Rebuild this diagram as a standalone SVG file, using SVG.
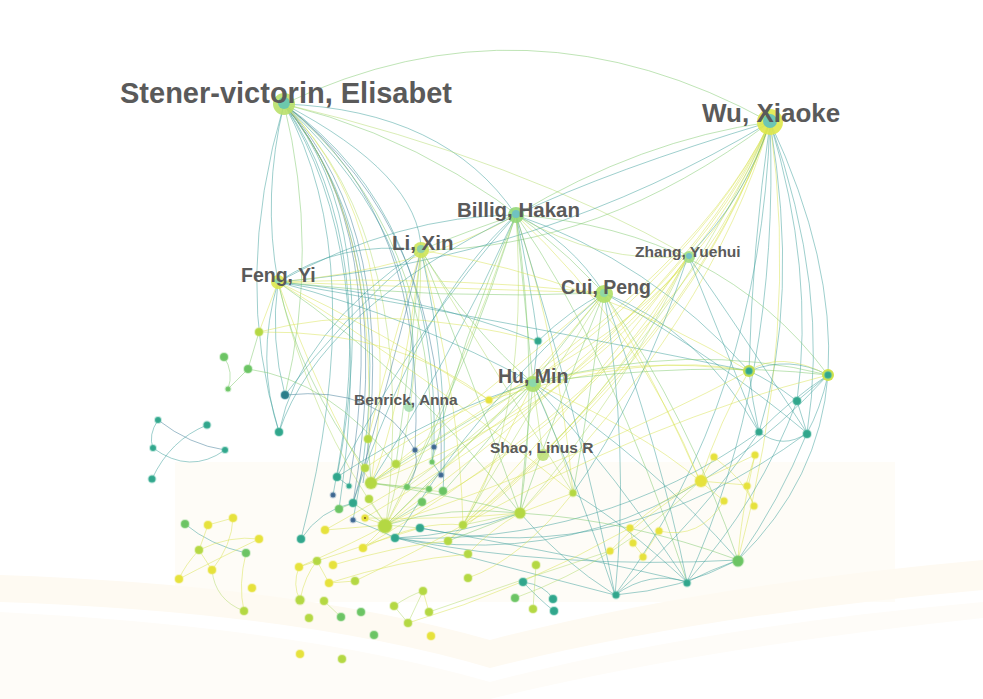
<svg xmlns="http://www.w3.org/2000/svg" width="983" height="699" viewBox="0 0 983 699">
<style>
.e path{fill:none;stroke-width:.85;opacity:.58}
.e .t{stroke:#3a9e9a}.e .d{stroke:#3b7895}.e .g{stroke:#7cc86a}.e .y{stroke:#d9e350}.e .l{stroke:#b2da6a}
circle{stroke-width:2;stroke-opacity:.35}
.y{fill:#e6e23c;stroke:#eee86a}.yg{fill:#b4d843;stroke:#c8e270}.g{fill:#6cc464;stroke:#8fd88a}.t{fill:#31a68c;stroke:#5cc0a8}.dt{fill:#2a7d8a;stroke:#4f9aa8}.b{fill:#3d6690;stroke:#6a8fb0}
.lb{font-family:"Liberation Sans",Arial,sans-serif;font-weight:bold;fill:#5a5a5a}
.hub-o{stroke:none;opacity:.9}.hub-i{stroke:none}
</style>
<rect width="983" height="699" fill="#ffffff"/>
<g id="background">
<rect x="175" y="462" width="720" height="140" fill="#fefcf7"/>
<path d="M0,575 Q300,585 490,640 Q700,585 983,560 L983,590 Q700,615 490,668 Q300,612 0,602Z" fill="#fefaf2"/>
<path d="M0,612 Q300,627 490,682 Q700,627 983,602 L983,618 Q700,648 490,699 L0,699Z" fill="#fefcf8"/>
</g>
<g id="connectors" class="e">
<path class="t" d="M284,104Q385,225 337,477"/>
<path class="d" d="M284,104Q392,230 349,486"/>
<path class="t" d="M284,104Q383,245 333,495"/>
<path class="d" d="M284,104Q398,240 353,503"/>
<path class="t" d="M284,104Q408,255 353,520"/>
<path class="d" d="M284,104Q402,232 363,483"/>
<path class="d" d="M284,104Q428,215 415,450"/>
<path class="t" d="M284,104Q440,215 434,447"/>
<path class="d" d="M284,104Q448,230 441,475"/>
<path class="g" d="M284,104Q436,228 432,462"/>
<path class="y" d="M284,104Q378,215 368,439"/>
<path class="t" d="M284,104Q378,250 339,509"/>
<path class="t" d="M284,104Q372,262 301,539"/>
<path class="t" d="M284,104Q232,280 279,432"/>
<path class="t" d="M284,104Q262,195 278,282"/>
<path class="g" d="M284,104Q320,250 285,395"/>
<path class="l" d="M284,104Q420,240 386,525"/>
<path class="y" d="M284,104Q410,230 371,483"/>
<path class="t" d="M284,104Q440,250 408,407"/>
<path class="g" d="M284,104Q527,-12 770,122"/>
<path class="t" d="M284,104Q445,110 516,215"/>
<path class="g" d="M284,104Q470,150 604,293"/>
<path class="l" d="M284,104Q520,160 688,256"/>
<path class="t" d="M284,104Q420,175 421,250"/>
<path class="y" d="M770,122Q690,300 386,525"/>
<path class="y" d="M770,122Q680,310 371,483"/>
<path class="y" d="M770,122Q695,320 365,518"/>
<path class="y" d="M770,122Q690,290 396,464"/>
<path class="y" d="M770,122Q705,320 463,525"/>
<path class="y" d="M770,122Q700,335 448,541"/>
<path class="l" d="M770,122Q700,290 543,455"/>
<path class="y" d="M770,122Q712,320 520,513"/>
<path class="y" d="M770,122Q680,335 325,530"/>
<path class="y" d="M770,122Q700,345 363,548"/>
<path class="y" d="M770,122Q710,300 489,400"/>
<path class="t" d="M770,122Q745,200 688,256"/>
<path class="t" d="M770,122Q752,250 749,371"/>
<path class="t" d="M770,122Q835,260 828,375"/>
<path class="t" d="M770,122Q830,290 807,433"/>
<path class="t" d="M770,122Q815,270 797,401"/>
<path class="t" d="M770,122Q800,300 759,432"/>
<path class="y" d="M770,122Q800,330 738,560"/>
<path class="t" d="M770,122Q780,380 687,582"/>
<path class="t" d="M770,122Q760,400 615,595"/>
<path class="g" d="M770,122Q640,140 516,215"/>
<path class="t" d="M770,122Q610,170 516,215"/>
<path class="g" d="M770,122Q600,250 421,250"/>
<path class="t" d="M770,122Q540,260 278,282"/>
<path class="g" d="M516,215L533,383"/>
<path class="t" d="M516,215Q530,280 538,341"/>
<path class="g" d="M516,215Q540,380 520,513"/>
<path class="y" d="M516,215Q560,350 573,493"/>
<path class="l" d="M516,215Q460,380 386,525"/>
<path class="t" d="M516,215Q450,360 371,483"/>
<path class="g" d="M516,215Q470,360 407,487"/>
<path class="g" d="M516,215Q460,340 432,462"/>
<path class="t" d="M516,215Q580,420 615,595"/>
<path class="y" d="M516,215Q640,330 700,481"/>
<path class="t" d="M516,215Q400,215 278,282"/>
<path class="g" d="M516,215Q470,230 421,250"/>
<path class="t" d="M516,215Q570,240 604,293"/>
<path class="t" d="M516,215Q650,260 749,371"/>
<path class="g" d="M516,215Q720,230 828,375"/>
<path class="t" d="M516,215Q420,320 337,477"/>
<path class="l" d="M516,215Q530,420 463,525"/>
<path class="g" d="M516,215Q610,350 687,582"/>
<path class="t" d="M516,215Q420,300 353,503"/>
<path class="l" d="M421,250Q420,400 386,525"/>
<path class="y" d="M421,250Q390,350 368,439"/>
<path class="g" d="M421,250Q410,360 396,464"/>
<path class="g" d="M421,250Q480,400 520,513"/>
<path class="y" d="M421,250Q460,400 463,525"/>
<path class="l" d="M421,250Q500,380 573,493"/>
<path class="t" d="M421,250Q340,240 278,282"/>
<path class="t" d="M421,250Q340,320 285,395"/>
<path class="y" d="M421,250Q600,280 749,371"/>
<path class="d" d="M421,250Q390,380 353,503"/>
<path class="g" d="M421,250Q470,330 533,383"/>
<path class="t" d="M421,250Q450,380 443,492"/>
<path class="y" d="M421,250Q400,420 371,483"/>
<path class="y" d="M278,282L259,332"/>
<path class="t" d="M278,282Q255,360 279,432"/>
<path class="t" d="M278,282Q270,340 285,395"/>
<path class="t" d="M278,282Q420,295 538,341"/>
<path class="y" d="M278,282Q440,275 604,293"/>
<path class="y" d="M278,282Q445,288 604,293"/>
<path class="g" d="M278,282Q440,300 604,293"/>
<path class="y" d="M278,282Q380,330 489,400"/>
<path class="y" d="M278,282Q420,370 573,493"/>
<path class="g" d="M278,282Q420,380 520,513"/>
<path class="l" d="M278,282Q310,420 386,525"/>
<path class="y" d="M278,282Q320,400 371,483"/>
<path class="g" d="M278,282Q300,380 365,468"/>
<path class="t" d="M278,282Q420,320 533,383"/>
<path class="t" d="M278,282Q500,320 749,371"/>
<path class="y" d="M278,282Q420,270 516,215"/>
<path class="t" d="M604,293Q570,310 538,341"/>
<path class="g" d="M604,293Q565,340 533,383"/>
<path class="t" d="M604,293Q630,450 615,595"/>
<path class="t" d="M604,293Q660,450 687,582"/>
<path class="g" d="M604,293Q690,420 738,560"/>
<path class="t" d="M604,293Q720,360 807,433"/>
<path class="g" d="M604,293Q560,400 520,513"/>
<path class="y" d="M604,293Q500,420 386,525"/>
<path class="y" d="M604,293Q660,390 700,481"/>
<path class="g" d="M604,293Q590,400 573,493"/>
<path class="y" d="M604,293Q490,390 371,483"/>
<path class="l" d="M604,293Q530,410 463,525"/>
<path class="t" d="M604,293Q700,330 759,432"/>
<path class="t" d="M604,293Q480,400 396,538"/>
<path class="y" d="M688,256Q600,420 386,525"/>
<path class="y" d="M688,256Q590,400 371,483"/>
<path class="l" d="M688,256Q620,400 520,513"/>
<path class="t" d="M688,256Q740,330 807,433"/>
<path class="y" d="M688,256Q610,410 463,525"/>
<path class="t" d="M688,256Q640,400 573,493"/>
<path class="y" d="M688,256Q600,380 448,541"/>
<path class="l" d="M688,256Q600,265 516,215"/>
<path class="t" d="M688,256Q730,360 759,432"/>
<path class="g" d="M533,383Q460,450 386,525"/>
<path class="g" d="M533,383Q450,430 371,483"/>
<path class="l" d="M533,383Q470,440 407,487"/>
<path class="g" d="M533,383Q490,440 443,492"/>
<path class="g" d="M533,383Q525,450 520,513"/>
<path class="l" d="M533,383Q560,440 573,493"/>
<path class="t" d="M533,383Q580,490 615,595"/>
<path class="t" d="M533,383Q620,480 687,582"/>
<path class="t" d="M533,383Q650,460 738,560"/>
<path class="y" d="M533,383Q640,355 749,371"/>
<path class="g" d="M533,383Q690,340 828,375"/>
<path class="y" d="M533,383Q450,410 365,468"/>
<path class="t" d="M533,383Q440,410 337,477"/>
<path class="y" d="M533,383Q500,450 463,525"/>
<path class="l" d="M533,383L543,455"/>
<path class="t" d="M533,383L538,341"/>
<path class="y" d="M533,383Q640,430 700,481"/>
<path class="t" d="M749,371Q790,355 828,375"/>
<path class="t" d="M749,371Q770,380 797,401"/>
<path class="t" d="M749,371Q752,400 759,432"/>
<path class="t" d="M797,401L828,375"/>
<path class="t" d="M797,401L807,433"/>
<path class="t" d="M759,432Q783,450 807,433"/>
<path class="t" d="M828,375Q790,400 759,432"/>
<path class="t" d="M828,375Q820,410 807,433"/>
<path class="y" d="M749,371Q720,420 700,481"/>
<path class="t" d="M828,375Q820,480 738,560"/>
<path class="t" d="M797,401Q760,500 687,582"/>
<path class="t" d="M759,432Q700,520 615,595"/>
<path class="t" d="M807,433Q780,500 738,560"/>
<path class="t" d="M828,375Q640,580 396,538"/>
<path class="t" d="M807,433Q620,570 420,528"/>
<path class="t" d="M759,432Q600,545 396,538"/>
<path class="y" d="M749,371Q580,460 386,525"/>
<path class="y" d="M828,375Q650,420 463,525"/>
<path class="y" d="M749,371Q650,350 489,400"/>
<path class="g" d="M828,375Q700,360 533,383"/>
<path class="y" d="M828,375Q780,350 749,371"/>
<path class="y" d="M700,481L714,457"/>
<path class="y" d="M700,481L746,485"/>
<path class="y" d="M700,481L724,501"/>
<path class="y" d="M700,481L755,455"/>
<path class="y" d="M755,455L746,485"/>
<path class="y" d="M746,485L754,506"/>
<path class="y" d="M714,457Q745,480 754,506"/>
<path class="y" d="M700,481Q660,500 630,528"/>
<path class="y" d="M700,481Q650,510 610,551"/>
<path class="y" d="M630,528L633,543"/>
<path class="y" d="M633,543L643,556"/>
<path class="y" d="M659,531L643,556"/>
<path class="y" d="M724,501Q700,540 659,531"/>
<path class="y" d="M755,455Q740,520 738,560"/>
<path class="t" d="M738,560Q710,570 687,582"/>
<path class="t" d="M687,582Q650,570 615,595"/>
<path class="t" d="M615,595Q560,560 520,513"/>
<path class="t" d="M687,582Q620,520 573,493"/>
<path class="t" d="M738,560Q680,590 615,595"/>
<path class="g" d="M738,560Q630,520 520,513"/>
<path class="t" d="M738,560Q560,570 396,538"/>
<path class="t" d="M687,582Q600,560 420,528"/>
<path class="t" d="M615,595Q480,560 396,538"/>
<path class="g" d="M520,513Q450,505 386,525"/>
<path class="t" d="M520,513Q460,535 396,538"/>
<path class="g" d="M520,513Q450,495 371,483"/>
<path class="y" d="M520,513Q450,520 365,518"/>
<path class="y" d="M520,513L573,493"/>
<path class="l" d="M520,513L463,525"/>
<path class="g" d="M520,513L448,541"/>
<path class="y" d="M520,513Q490,530 468,554"/>
<path class="g" d="M386,525L353,503"/>
<path class="l" d="M386,525L369,498"/>
<path class="y" d="M386,525L363,548"/>
<path class="y" d="M386,525L325,530"/>
<path class="l" d="M386,525L420,528"/>
<path class="g" d="M386,525L422,503"/>
<path class="y" d="M386,525Q400,500 407,487"/>
<path class="y" d="M371,483L395,464"/>
<path class="g" d="M371,483L368,439"/>
<path class="l" d="M371,483L443,492"/>
<path class="g" d="M371,483L429,489"/>
<path class="y" d="M363,548Q420,520 463,525"/>
<path class="y" d="M317,561Q380,540 420,528"/>
<path class="y" d="M333,565Q400,545 448,541"/>
<path class="y" d="M355,581Q420,550 463,525"/>
<path class="y" d="M329,583Q400,560 468,554"/>
<path class="y" d="M299,567Q360,540 386,525"/>
<path class="t" d="M301,539Q320,510 353,503"/>
<path class="t" d="M337,477L349,486"/>
<path class="g" d="M339,509L353,503"/>
<path class="t" d="M353,520Q380,530 395,538"/>
<path class="y" d="M365,518L386,525"/>
<path class="t" d="M432,462L434,447"/>
<path class="t" d="M441,475L432,462"/>
<path class="d" d="M415,450Q420,470 407,487"/>
<path class="d" d="M285,395Q380,385 415,450"/>
<path class="t" d="M279,432Q300,330 421,250"/>
<path class="t" d="M279,432Q320,310 516,215"/>
<path class="y" d="M259,332Q400,330 489,400"/>
<path class="y" d="M259,332Q380,300 538,341"/>
<path class="g" d="M259,332L248,369"/>
<path class="g" d="M224,357Q234,372 228,389"/>
<path class="g" d="M248,369L228,389"/>
<path class="g" d="M248,369Q330,380 395,464"/>
<path class="t" d="M158,420Q148,435 153,448"/>
<path class="d" d="M158,420Q190,445 225,450"/>
<path class="t" d="M153,448Q190,475 225,450"/>
<path class="t" d="M207,425Q170,440 152,479"/>
<path class="t" d="M185,524Q210,545 246,553"/>
<path class="y" d="M208,525L233,518"/>
<path class="y" d="M233,518Q232,545 212,570"/>
<path class="y" d="M208,525L199,550"/>
<path class="y" d="M199,550Q185,565 179,579"/>
<path class="y" d="M179,579Q215,560 259,539"/>
<path class="y" d="M199,550Q230,535 259,539"/>
<path class="l" d="M212,570Q215,600 244,611"/>
<path class="y" d="M246,553Q238,585 244,611"/>
<path class="y" d="M199,550L212,570"/>
<path class="y" d="M299,567L317,561"/>
<path class="y" d="M317,561L329,583"/>
<path class="y" d="M299,567Q292,585 300,600"/>
<path class="y" d="M300,600Q305,575 317,561"/>
<path class="y" d="M329,583L355,581"/>
<path class="l" d="M324,601L341,617"/>
<path class="y" d="M423,591L429,612"/>
<path class="l" d="M394,606L408,623"/>
<path class="l" d="M394,606Q410,595 423,591"/>
<path class="l" d="M408,623L423,591"/>
<path class="l" d="M429,612Q520,580 610,551"/>
<path class="y" d="M408,623Q520,590 630,528"/>
<path class="t" d="M523,582Q545,585 553,599"/>
<path class="t" d="M523,582Q540,600 554,611"/>
<path class="l" d="M536,565L533,609"/>
<path class="y" d="M468,578Q520,560 573,493"/>
<path class="l" d="M515,598Q620,560 700,481"/>
</g>
<g id="n-sv"><circle class="hub-o" cx="284" cy="104" r="11" fill="#b9e06a"/><circle class="hub-i" cx="284" cy="103" r="6" fill="#6cc8ac"/><text class="lb" x="120" y="103" font-size="29">Stener-victorin, Elisabet</text></g>
<g id="n-wx"><circle class="hub-o" cx="770" cy="122" r="13" fill="#dfe84a"/><circle class="hub-i" cx="770" cy="121" r="7" fill="#6cc6b4"/><text class="lb" x="702" y="122" font-size="26">Wu, Xiaoke</text></g>
<g id="n-bh"><circle class="hub-o" cx="516" cy="215" r="8" fill="#94d878"/><circle class="hub-i" cx="516" cy="214" r="4" fill="#70c2c0"/><text class="lb" x="457" y="217" font-size="20.5">Billig, Hakan</text></g>
<g id="n-lx"><circle class="hub-o" cx="421" cy="250" r="8" fill="#cde45a"/><circle class="hub-i" cx="421" cy="249" r="4" fill="#8fd0a6"/><text class="lb" x="392" y="250" font-size="20.5">Li, Xin</text></g>
<g id="n-fy"><circle class="hub-o" cx="278" cy="282" r="7" fill="#dde64e"/><circle class="hub-i" cx="278" cy="281" r="3" fill="#8ed6b0"/><text class="lb" x="241" y="282" font-size="19.5">Feng, Yi</text></g>
<g id="n-cp"><circle class="hub-o" cx="604" cy="294" r="9" fill="#b0e066"/><circle class="hub-i" cx="604" cy="293" r="4" fill="#90d8a4"/><text class="lb" x="561" y="294" font-size="19.5">Cui, Peng</text></g>
<g id="n-zy"><circle class="hub-o" cx="689" cy="257" r="6" fill="#a2de84"/><circle class="hub-i" cx="689" cy="256" r="3" fill="#74c2c8"/><text class="lb" x="635" y="257" font-size="15.5">Zhang, Yuehui</text></g>
<g id="n-hm"><circle class="hub-o" cx="533" cy="384" r="8" fill="#aadd6a"/><circle class="hub-i" cx="533" cy="383" r="4" fill="#8cd8aa"/><text class="lb" x="498" y="383" font-size="19.5">Hu, Min</text></g>
<g id="n-ba"><circle class="hub-o" cx="409" cy="407" r="5" fill="#a8e0b4"/><text class="lb" x="354" y="405" font-size="15.5">Benrick, Anna</text></g>
<g id="n-sl"><circle class="hub-o" cx="543" cy="455" r="6" fill="#bfe07a"/><text class="lb" x="490" y="453" font-size="15.5">Shao, Linus R</text></g>
<g id="n1"><circle class="yg" cx="259" cy="332" r="4"/></g>
<g id="n2"><circle class="g" cx="224" cy="357" r="4"/></g>
<g id="n3"><circle class="g" cx="248" cy="369" r="4"/></g>
<g id="n4"><circle class="g" cx="228" cy="389" r="2.5"/></g>
<g id="n5"><circle class="dt" cx="285" cy="395" r="4"/></g>
<g id="n6"><circle class="t" cx="279" cy="432" r="4"/></g>
<g id="n7"><circle class="t" cx="158" cy="420" r="3"/></g>
<g id="n8"><circle class="t" cx="207" cy="425" r="3.5"/></g>
<g id="n9"><circle class="t" cx="153" cy="448" r="3"/></g>
<g id="n10"><circle class="t" cx="225" cy="450" r="3"/></g>
<g id="n11"><circle class="t" cx="152" cy="479" r="3.5"/></g>
<g id="n12"><circle class="t" cx="538" cy="341" r="3.5"/></g>
<g id="n13"><circle class="y" cx="489" cy="400" r="3.5"/></g>
<g id="n14"><circle cx="749" cy="371" r="6" fill="#c6e04c" stroke="none"/><circle class="t" cx="749" cy="371" r="3.5"/></g>
<g id="n15"><circle cx="828" cy="375" r="6" fill="#d2e44a" stroke="none"/><circle class="t" cx="828" cy="375" r="3.5"/></g>
<g id="n16"><circle class="t" cx="797" cy="401" r="4"/></g>
<g id="n17"><circle class="t" cx="759" cy="432" r="3.5"/></g>
<g id="n18"><circle class="t" cx="807" cy="434" r="4"/></g>
<g id="n19"><circle class="y" cx="714" cy="457" r="3.5"/></g>
<g id="n20"><circle class="y" cx="755" cy="455" r="3.5"/></g>
<g id="n21"><circle class="y" cx="701" cy="481" r="6"/></g>
<g id="n22"><circle class="y" cx="747" cy="486" r="3.5"/></g>
<g id="n23"><circle class="y" cx="724" cy="501" r="3.5"/></g>
<g id="n24"><circle class="y" cx="754" cy="506" r="3.5"/></g>
<g id="n25"><circle class="y" cx="630" cy="528" r="3.5"/></g>
<g id="n26"><circle class="y" cx="659" cy="531" r="3.5"/></g>
<g id="n27"><circle class="y" cx="633" cy="543" r="3.5"/></g>
<g id="n28"><circle class="y" cx="610" cy="551" r="3.5"/></g>
<g id="n29"><circle class="y" cx="643" cy="557" r="3.5"/></g>
<g id="n30"><circle class="g" cx="738" cy="561" r="5.5"/></g>
<g id="n31"><circle class="t" cx="687" cy="583" r="3.5"/></g>
<g id="n32"><circle class="t" cx="616" cy="595" r="3.5"/></g>
<g id="n33"><circle class="yg" cx="520" cy="513" r="5.5"/></g>
<g id="n34"><circle class="yg" cx="573" cy="493" r="3.5"/></g>
<g id="n35"><circle class="yg" cx="368" cy="439" r="4"/></g>
<g id="n36"><circle class="b" cx="415" cy="450" r="2.5"/></g>
<g id="n37"><circle class="b" cx="434" cy="447" r="2.5"/></g>
<g id="n38"><circle class="g" cx="432" cy="462" r="2.5"/></g>
<g id="n39"><circle class="b" cx="441" cy="475" r="2.5"/></g>
<g id="n40"><circle class="yg" cx="396" cy="464" r="4"/></g>
<g id="n41"><circle class="yg" cx="365" cy="468" r="4"/></g>
<g id="n42"><circle class="t" cx="337" cy="477" r="4"/></g>
<g id="n43"><circle class="t" cx="349" cy="486" r="2.5"/></g>
<g id="n44"><circle class="yg" cx="371" cy="483" r="6"/></g>
<g id="n45"><circle class="g" cx="407" cy="487" r="3"/></g>
<g id="n46"><circle class="g" cx="429" cy="489" r="3"/></g>
<g id="n47"><circle class="g" cx="443" cy="491" r="4"/></g>
<g id="n48"><circle class="b" cx="333" cy="495" r="2.5"/></g>
<g id="n49"><circle class="yg" cx="369" cy="499" r="4"/></g>
<g id="n50"><circle class="t" cx="353" cy="503" r="4"/></g>
<g id="n51"><circle class="g" cx="339" cy="509" r="4"/></g>
<g id="n52"><circle class="g" cx="422" cy="502" r="4"/></g>
<g id="n53"><circle class="b" cx="353" cy="520" r="2.5"/></g>
<g id="n54"><circle class="y" cx="365" cy="518" r="3.5"/><circle cx="365" cy="518" r="1" fill="#7a5a20" stroke="none"/></g>
<g id="n55"><circle class="yg" cx="385" cy="526" r="7"/></g>
<g id="n56"><circle class="t" cx="420" cy="528" r="4"/></g>
<g id="n57"><circle class="t" cx="395" cy="538" r="4"/></g>
<g id="n58"><circle class="y" cx="325" cy="530" r="4"/></g>
<g id="n59"><circle class="t" cx="301" cy="539" r="4"/></g>
<g id="n60"><circle class="y" cx="363" cy="548" r="4"/></g>
<g id="n61"><circle class="yg" cx="463" cy="525" r="4"/></g>
<g id="n62"><circle class="yg" cx="448" cy="541" r="4"/></g>
<g id="n63"><circle class="yg" cx="468" cy="554" r="4"/></g>
<g id="n64"><circle class="yg" cx="468" cy="578" r="4"/></g>
<g id="n65"><circle class="g" cx="185" cy="524" r="4"/></g>
<g id="n66"><circle class="y" cx="208" cy="525" r="4"/></g>
<g id="n67"><circle class="y" cx="233" cy="518" r="4"/></g>
<g id="n68"><circle class="y" cx="259" cy="539" r="4"/></g>
<g id="n69"><circle class="yg" cx="199" cy="550" r="4"/></g>
<g id="n70"><circle class="g" cx="246" cy="553" r="4"/></g>
<g id="n71"><circle class="y" cx="212" cy="570" r="4"/></g>
<g id="n72"><circle class="y" cx="179" cy="579" r="4"/></g>
<g id="n73"><circle class="y" cx="252" cy="588" r="4"/></g>
<g id="n74"><circle class="yg" cx="244" cy="611" r="4"/></g>
<g id="n75"><circle class="y" cx="299" cy="567" r="4"/></g>
<g id="n76"><circle class="yg" cx="317" cy="561" r="4"/></g>
<g id="n77"><circle class="y" cx="333" cy="565" r="4"/></g>
<g id="n78"><circle class="y" cx="329" cy="583" r="4"/></g>
<g id="n79"><circle class="yg" cx="355" cy="581" r="4"/></g>
<g id="n80"><circle class="yg" cx="300" cy="600" r="4.5"/></g>
<g id="n81"><circle class="yg" cx="324" cy="601" r="4"/></g>
<g id="n82"><circle class="yg" cx="309" cy="618" r="4"/></g>
<g id="n83"><circle class="g" cx="341" cy="617" r="4"/></g>
<g id="n84"><circle class="g" cx="361" cy="612" r="4"/></g>
<g id="n85"><circle class="g" cx="374" cy="635" r="4"/></g>
<g id="n86"><circle class="yg" cx="394" cy="606" r="4"/></g>
<g id="n87"><circle class="yg" cx="423" cy="591" r="4"/></g>
<g id="n88"><circle class="yg" cx="429" cy="612" r="4"/></g>
<g id="n89"><circle class="yg" cx="408" cy="623" r="4"/></g>
<g id="n90"><circle class="y" cx="431" cy="636" r="4"/></g>
<g id="n91"><circle class="y" cx="300" cy="654" r="4"/></g>
<g id="n92"><circle class="yg" cx="342" cy="659" r="4"/></g>
<g id="n93"><circle class="yg" cx="536" cy="565" r="4"/></g>
<g id="n94"><circle class="t" cx="523" cy="582" r="4"/></g>
<g id="n95"><circle class="g" cx="515" cy="598" r="4"/></g>
<g id="n96"><circle class="t" cx="553" cy="599" r="4"/></g>
<g id="n97"><circle class="yg" cx="533" cy="609" r="4"/></g>
<g id="n98"><circle class="t" cx="554" cy="611" r="4"/></g>
</svg>
